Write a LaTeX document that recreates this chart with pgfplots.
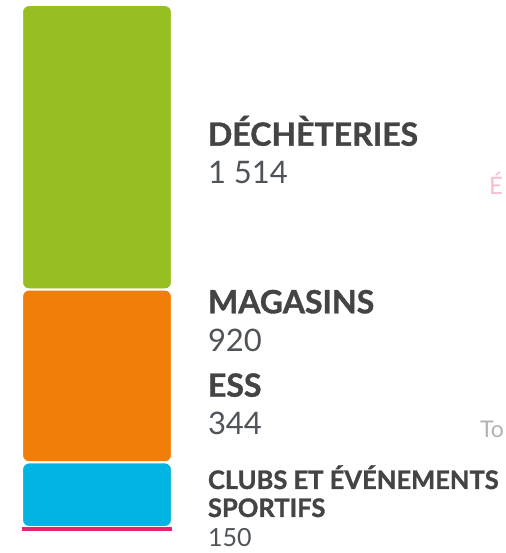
\documentclass[border=0pt]{standalone}
\usepackage{pgfplots}
\pgfplotsset{compat=1.18}
\usepackage{fontspec}
\setmainfont{Lato}
\newfontfamily\heavy{Lato}[FakeBold=1.2]
\definecolor{cgreen}{HTML}{97BF21}
\definecolor{corange}{HTML}{F07E08}
\definecolor{ccyan}{HTML}{00B5E2}
\definecolor{cpink}{HTML}{E2256F}
\definecolor{ctext}{HTML}{444444}
\definecolor{cnum}{HTML}{4F545A}
\begin{document}
\begin{tikzpicture}[x=1pt,y=1pt]
\useasboundingbox (0,0) rectangle (505,553);
\clip (0,0) rectangle (505,553);
\begin{axis}[
  at={(22pt,22pt)}, anchor=south west,
  scale only axis, width=150pt, height=526pt,
  hide axis,
  xmin=-0.5, xmax=0.5,
  ymin=0, ymax=2799,
  ybar stacked, bar width=1,
  clip=false,
]
\addplot[fill=cpink, draw=none] coordinates {(0,21)};
\addplot[fill=ccyan, draw=white, line width=2pt, rounded corners=7pt] coordinates {(0,344)};
\addplot[fill=corange, draw=white, line width=2pt, rounded corners=7pt] coordinates {(0,920)};
\addplot[fill=cgreen, draw=white, line width=2pt, rounded corners=7pt] coordinates {(0,1514)};
\end{axis}
\begin{scope}[every node/.style={anchor=base west, inner sep=0pt, outer sep=0pt}]
\node[text=ctext, font=\fontsize{32}{36}\selectfont\heavy\bfseries] at (208,553-145.7) {DÉCHÈTERIES};
\node[text=cnum, font=\fontsize{31}{36}\selectfont] at (208,553-183.3) {1 514};
\node[text=ctext, font=\fontsize{32}{36}\selectfont\heavy\bfseries] at (208,553-313.3) {MAGASINS};
\node[text=cnum, font=\fontsize{31}{36}\selectfont] at (208,553-351.7) {920};
\node[text=ctext, font=\fontsize{32}{36}\selectfont\heavy\bfseries] at (208,553-396.7) {ESS};
\node[text=cnum, font=\fontsize{31}{36}\selectfont] at (208,553-435) {344};
\node[text=ctext, font=\fontsize{25.5}{28}\selectfont\heavy\bfseries] at (208,553-489) {CLUBS ET ÉVÉNEMENTS};
\node[text=ctext, font=\fontsize{25.5}{28}\selectfont\heavy\bfseries] at (208,553-517) {SPORTIFS};
\node[text=cnum, font=\fontsize{25}{28}\selectfont] at (208,553-547) {150};
\node[text=cpink, opacity=0.3, font=\fontsize{24}{28}\selectfont] at (489,553-195) {É};
\node[text=cnum, opacity=0.45, font=\fontsize{23}{28}\selectfont] at (480,553-438) {To};
\end{scope}
\end{tikzpicture}
\end{document}
